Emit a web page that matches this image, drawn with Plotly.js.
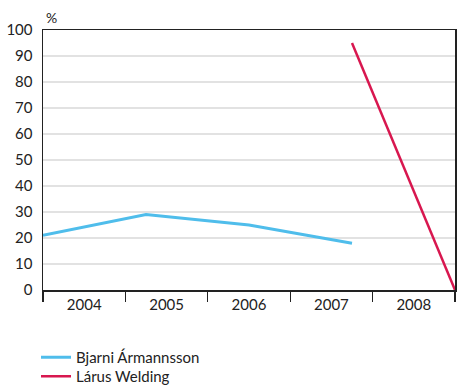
<!DOCTYPE html>
<html>
<head>
<meta charset="utf-8">
<script src="https://cdn.plot.ly/plotly-3.0.1.min.js"></script>
<style>html,body{margin:0;padding:0;background:#fff;}#chart{width:462px;height:385px;}</style>
</head>
<body>
<div id="chart"></div>
<script>
// Share of votes (%) per person, positioned on a continuous year scale
const bjarniYears = [2004.0, 2005.25, 2006.5, 2007.75];
const bjarniValues = [21, 29, 25, 18];
const larusYears = [2007.75, 2009.0];
const larusValues = [95, 0];
const yearLabels = ['2004', '2005', '2006', '2007', '2008'];
const seriesNames = ['Bjarni Ármannsson', 'Lárus Welding'];

const FONT = 'Lato, "Open Sans", sans-serif';
const labelPositions = yearLabels.map(y => Number(y) + 0.5);
const boundaries = yearLabels.map(Number).concat([Number(yearLabels[yearLabels.length - 1]) + 1]);

const traces = [
  {x: bjarniYears, y: bjarniValues, name: seriesNames[0], type: 'scatter', mode: 'lines',
   line: {color: '#4fbdeb', width: 3}, legend: 'legend'},
  {x: larusYears, y: larusValues, name: seriesNames[1], type: 'scatter', mode: 'lines',
   line: {color: '#d8174f', width: 2.5}, legend: 'legend2'},
  // invisible carrier for the year labels on the overlay axis
  {x: labelPositions, y: labelPositions.map(() => null), xaxis: 'x2', showlegend: false,
   hoverinfo: 'skip', mode: 'lines'}
];

const legendBase = {x: -0.017, xref: 'paper', yref: 'container', xanchor: 'left', yanchor: 'top',
  orientation: 'v', font: {family: FONT, size: 15, color: '#222'}, itemwidth: 30,
  bgcolor: 'rgba(0,0,0,0)'};

const layout = {
  width: 462, height: 385,
  margin: {l: 43, r: 7, t: 30, b: 95, autoexpand: false},
  paper_bgcolor: '#fff', plot_bgcolor: '#fff',
  font: {family: FONT, size: 15, color: '#222'},
  showlegend: true,
  legend: Object.assign({}, legendBase, {y: 0.1143}),
  legend2: Object.assign({}, legendBase, {y: 0.0649}),
  xaxis: {range: [2004, 2009], tickvals: boundaries, ticktext: boundaries.map(() => ''),
          ticks: 'outside', ticklen: 10, tickwidth: 1.3, tickcolor: '#222', automargin: false,
          showgrid: false, zeroline: false, showline: true, linecolor: '#222', linewidth: 1.5,
          mirror: true, fixedrange: true},
  xaxis2: {overlaying: 'x', side: 'bottom', range: [2004, 2009], tickvals: labelPositions,
           ticktext: yearLabels, ticks: '', showgrid: false, zeroline: false, showline: false,
           automargin: false, tickfont: {family: FONT, size: 15, color: '#222'}, ticklabelstandoff: 4},
  yaxis: {range: [0, 100], tickvals: [0,10,20,30,40,50,60,70,80,90,100], ticks: '',
          showgrid: true, gridcolor: '#e2e2e2', gridwidth: 1.5, zeroline: false, automargin: false,
          showline: true, linecolor: '#222', linewidth: 1.5, mirror: true,
          tickfont: {family: FONT, size: 15, color: '#222'}, ticklabelstandoff: 6},
  annotations: [{text: '%', xref: 'paper', yref: 'paper', x: 0, y: 1, xanchor: 'left',
                 yanchor: 'bottom', showarrow: false, xshift: 1, yshift: 2,
                 font: {family: FONT, size: 14, color: '#222'}}]
};

Plotly.newPlot('chart', traces, layout, {displayModeBar: false, staticPlot: true});
</script>
</body>
</html>
